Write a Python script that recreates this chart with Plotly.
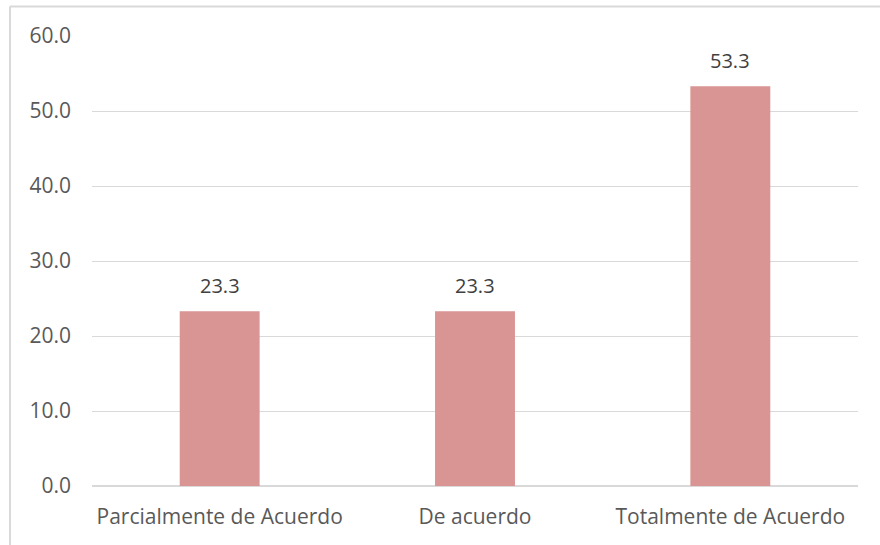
import plotly.graph_objects as go

categories = ["Parcialmente de Acuerdo", "De acuerdo", "Totalmente de Acuerdo"]
values = [23.3, 23.3, 53.3]
tick_vals = [0, 10, 20, 30, 40, 50, 60]
tick_text = ["0.0", "10.0", "20.0", "30.0", "40.0", "50.0", "60.0"]

W, H = 880, 545
ml, mr, mt, mb = 92, 22, 36, 59
pw, ph = W - ml - mr, H - mt - mb

def px_x(x):
    return (x - ml) / pw

def px_y(y):
    return 1 - (y - mt) / ph

FS = 21
TXT = "#595959"

fig = go.Figure(go.Bar(
    x=categories, y=values,
    marker=dict(color="#D99594", line=dict(width=0)),
    cliponaxis=False,
))

for c, v in zip(categories, values):
    fig.add_annotation(x=c, y=v, text=f"{v:.1f}", showarrow=False,
                       yanchor="bottom", yshift=10,
                       font=dict(size=20, color="#404040", family="Open Sans"))

fig.update_layout(
    width=W, height=H,
    margin=dict(l=ml, r=mr, t=mt, b=mb),
    paper_bgcolor="white", plot_bgcolor="white",
    bargap=0.687,
    showlegend=False,
    font=dict(family="Open Sans", size=FS, color=TXT),
)
fig.update_yaxes(
    range=[0, 60], tickvals=tick_vals, ticktext=tick_text,
    showgrid=True, gridcolor="#D9D9D9", gridwidth=1,
    zeroline=True, zerolinecolor="#D9D9D9", zerolinewidth=2,
    showline=False, ticks="", ticklabelstandoff=20,
    tickfont=dict(size=FS, color=TXT),
)
fig.update_xaxes(
    showline=False, ticks="", showgrid=False, ticklabelstandoff=16,
    tickfont=dict(size=FS, color=TXT),
)

border = "#D9D9D9"
fig.add_shape(type="line", xref="paper", yref="paper",
              x0=px_x(10), x1=px_x(10), y0=px_y(6.5), y1=px_y(560),
              line=dict(color=border, width=2))
fig.add_shape(type="line", xref="paper", yref="paper",
              x0=px_x(10), x1=px_x(890), y0=px_y(6.5), y1=px_y(6.5),
              line=dict(color=border, width=2))

fig.write_html("out.html")
